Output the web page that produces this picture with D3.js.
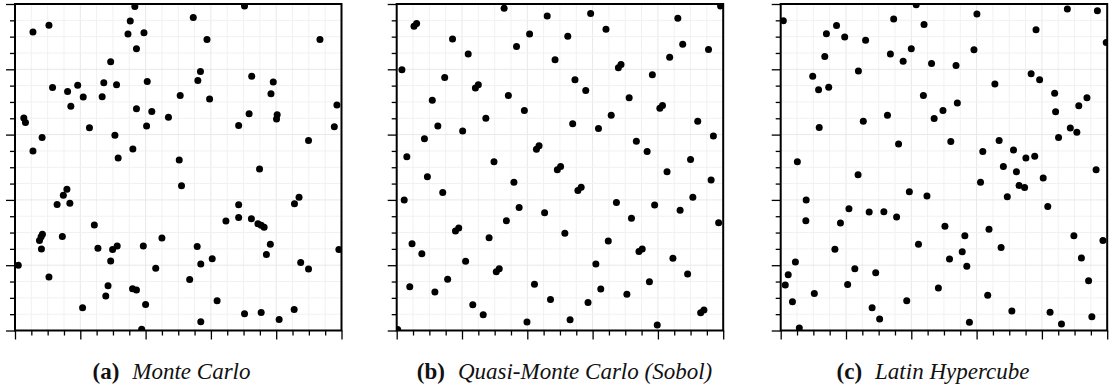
<!DOCTYPE html>
<html>
<head>
<meta charset="utf-8">
<script src="https://cdn.jsdelivr.net/npm/d3@7"></script>
<style>
  html, body { margin: 0; padding: 0; background: #fff; }
  svg { display: block; }
</style>
</head>
<body>
<svg id="chart" width="1111" height="392"></svg>
<script>
// sample points in the unit square, [x, y]
const monteCarlo = [
  [0.367,0.992],[0.703,0.994],[0.546,0.959],[0.353,0.948],[0.104,0.935],[0.055,0.914],[0.346,0.908],[0.395,0.912],
  [0.588,0.891],[0.934,0.891],[0.372,0.863],[0.293,0.823],[0.568,0.793],[0.725,0.779],[0.560,0.766],[0.405,0.763],
  [0.791,0.761],[0.272,0.759],[0.311,0.753],[0.192,0.751],[0.115,0.744],[0.161,0.732],[0.209,0.715],[0.267,0.716],
  [0.506,0.720],[0.784,0.725],[0.596,0.709],[0.986,0.691],[0.171,0.687],[0.372,0.679],[0.419,0.671],[0.717,0.664],
  [0.803,0.661],[0.801,0.648],[0.027,0.651],[0.032,0.637],[0.470,0.653],[0.685,0.628],[0.403,0.626],[0.228,0.621],
  [0.978,0.624],[0.083,0.591],[0.306,0.598],[0.899,0.582],[0.361,0.556],[0.055,0.550],[0.316,0.528],[0.503,0.522],
  [0.749,0.495],[0.510,0.443],[0.159,0.433],[0.148,0.414],[0.870,0.408],[0.129,0.386],[0.168,0.390],[0.685,0.385],
  [0.856,0.388],[0.685,0.346],[0.646,0.335],[0.724,0.342],[0.744,0.327],[0.754,0.322],[0.763,0.316],[0.243,0.323],
  [0.084,0.295],[0.080,0.287],[0.075,0.276],[0.145,0.288],[0.450,0.283],[0.081,0.250],[0.254,0.252],[0.299,0.248],
  [0.313,0.259],[0.393,0.259],[0.558,0.257],[0.782,0.264],[0.992,0.248],[0.770,0.233],[0.010,0.200],[0.293,0.213],
  [0.604,0.220],[0.569,0.204],[0.875,0.208],[0.899,0.188],[0.431,0.191],[0.104,0.164],[0.535,0.156],[0.285,0.137],
  [0.360,0.128],[0.372,0.124],[0.278,0.106],[0.619,0.091],[0.400,0.080],[0.207,0.070],[0.855,0.064],[0.703,0.051],
  [0.754,0.055],[0.809,0.034],[0.569,0.027],[0.388,0.004]
];

const sobol = [
  [0.329,0.987],[0.461,0.963],[0.594,0.971],[0.861,0.956],[0.992,0.994],[0.053,0.932],[0.061,0.940],[0.641,0.923],
  [0.407,0.908],[0.524,0.901],[0.171,0.893],[0.876,0.877],[0.367,0.870],[0.955,0.861],[0.219,0.847],[0.836,0.837],
  [0.485,0.829],[0.679,0.805],[0.687,0.815],[0.016,0.799],[0.783,0.783],[0.147,0.775],[0.546,0.768],[0.241,0.743],
  [0.250,0.753],[0.579,0.735],[0.342,0.720],[0.712,0.713],[0.109,0.705],[0.806,0.681],[0.814,0.689],[0.391,0.674],
  [0.657,0.659],[0.273,0.650],[0.922,0.641],[0.539,0.633],[0.126,0.626],[0.618,0.619],[0.202,0.611],[0.970,0.596],
  [0.085,0.587],[0.428,0.555],[0.436,0.566],[0.734,0.580],[0.767,0.548],[0.031,0.532],[0.900,0.524],[0.298,0.517],
  [0.492,0.492],[0.502,0.502],[0.828,0.486],[0.094,0.471],[0.963,0.461],[0.359,0.454],[0.555,0.429],[0.565,0.439],
  [0.141,0.423],[0.023,0.400],[0.907,0.408],[0.673,0.392],[0.790,0.384],[0.375,0.377],[0.868,0.368],[0.453,0.361],
  [0.719,0.344],[0.336,0.336],[0.986,0.330],[0.180,0.305],[0.190,0.314],[0.515,0.298],[0.283,0.284],[0.648,0.274],
  [0.047,0.266],[0.742,0.242],[0.752,0.250],[0.077,0.235],[0.846,0.221],[0.211,0.212],[0.610,0.204],[0.305,0.180],
  [0.314,0.189],[0.891,0.173],[0.156,0.157],[0.774,0.149],[0.422,0.142],[0.040,0.134],[0.625,0.127],[0.117,0.118],
  [0.705,0.111],[0.471,0.095],[0.586,0.086],[0.233,0.079],[0.931,0.054],[0.941,0.063],[0.265,0.048],[0.531,0.033],
  [0.399,0.026],[0.798,0.017],[0.003,0.003]
];

const latinHypercube = [
  [0.415,0.998],[0.878,0.985],[0.970,0.979],[0.601,0.969],[0.008,0.949],[0.346,0.954],[0.171,0.934],[0.439,0.937],
  [0.782,0.921],[0.140,0.909],[0.196,0.899],[0.260,0.889],[0.997,0.882],[0.400,0.863],[0.592,0.860],[0.135,0.839],
  [0.336,0.847],[0.375,0.825],[0.462,0.818],[0.537,0.812],[0.238,0.795],[0.098,0.779],[0.767,0.786],[0.793,0.768],
  [0.656,0.755],[0.147,0.745],[0.116,0.737],[0.839,0.727],[0.437,0.720],[0.938,0.713],[0.913,0.688],[0.541,0.697],
  [0.497,0.674],[0.842,0.670],[0.327,0.659],[0.470,0.649],[0.253,0.641],[0.118,0.622],[0.887,0.620],[0.907,0.607],
  [0.851,0.591],[0.669,0.582],[0.521,0.579],[0.361,0.571],[0.619,0.548],[0.713,0.553],[0.778,0.534],[0.751,0.528],
  [0.051,0.517],[0.682,0.502],[0.722,0.486],[0.966,0.492],[0.237,0.477],[0.804,0.467],[0.612,0.454],[0.730,0.444],
  [0.747,0.438],[0.394,0.425],[0.448,0.412],[0.694,0.410],[0.078,0.400],[0.818,0.380],[0.209,0.373],[0.271,0.363],
  [0.316,0.364],[0.355,0.348],[0.077,0.336],[0.183,0.329],[0.503,0.319],[0.638,0.310],[0.564,0.290],[0.898,0.290],
  [0.987,0.276],[0.422,0.264],[0.166,0.249],[0.675,0.254],[0.556,0.241],[0.517,0.219],[0.921,0.222],[0.045,0.210],
  [0.570,0.197],[0.227,0.189],[0.023,0.171],[0.291,0.177],[0.943,0.152],[0.014,0.139],[0.205,0.141],[0.483,0.130],
  [0.103,0.113],[0.634,0.108],[0.386,0.091],[0.036,0.088],[0.280,0.070],[0.708,0.060],[0.825,0.056],[0.303,0.035],
  [0.953,0.042],[0.578,0.025],[0.860,0.020],[0.057,0.008]
];

const majorTicks = [0, 0.2, 0.4, 0.6, 0.8, 1];
const minorTicks = [0.05, 0.1, 0.15, 0.25, 0.3, 0.35, 0.45, 0.5, 0.55, 0.65, 0.7, 0.75, 0.85, 0.9, 0.95];
const gridTicks = [...majorTicks, ...minorTicks];

const panels = [
  { id: 'a', label: '(a)', title: 'Monte Carlo', data: monteCarlo, left: 15, capX: 171.5 },
  { id: 'b', label: '(b)', title: 'Quasi-Monte Carlo (Sobol)', data: sobol, left: 396.7, capX: 564.5 },
  { id: 'c', label: '(c)', title: 'Latin Hypercube', data: latinHypercube, left: 780.7, capX: 933 }
];

const size = 326.5;
const plotTop = 4;
const svg = d3.select('#chart');

panels.forEach(p => {
  const g = svg.append('g').attr('transform', `translate(${p.left},${plotTop})`);
  const x = d3.scaleLinear().domain([0, 1]).range([0, size]);
  const y = d3.scaleLinear().domain([0, 1]).range([size, 0]);

  // grid
  g.append('g').selectAll('line.vx')
    .data(gridTicks).enter().append('line')
    .attr('x1', d => x(d)).attr('x2', d => x(d))
    .attr('y1', 0).attr('y2', size)
    .attr('stroke', d => majorTicks.includes(d) ? '#e8e8e8' : '#f1f1f1')
    .attr('stroke-width', 1);
  g.append('g').selectAll('line.hy')
    .data(gridTicks).enter().append('line')
    .attr('y1', d => y(d)).attr('y2', d => y(d))
    .attr('x1', 0).attr('x2', size)
    .attr('stroke', d => majorTicks.includes(d) ? '#e8e8e8' : '#f1f1f1')
    .attr('stroke-width', 1);

  // points, clipped to the plot box
  const clipId = 'clip-' + p.id;
  g.append('clipPath').attr('id', clipId)
    .append('rect').attr('width', size).attr('height', size);
  g.append('g').attr('clip-path', `url(#${clipId})`)
    .selectAll('circle')
    .data(p.data).enter().append('circle')
    .attr('cx', d => x(d[0]))
    .attr('cy', d => y(d[1]))
    .attr('r', 3.5)
    .attr('fill', '#000');

  // ticks
  const addAxis = (axis, transform) => {
    const a = g.append('g').attr('transform', transform).call(axis);
    a.select('.domain').remove();
    a.selectAll('.tick line').attr('stroke', '#000').attr('stroke-width', 1.3);
  };
  addAxis(d3.axisBottom(x).tickValues(majorTicks).tickSize(9).tickFormat(''), `translate(0,${size})`);
  addAxis(d3.axisBottom(x).tickValues(minorTicks).tickSize(5).tickFormat(''), `translate(0,${size})`);
  addAxis(d3.axisLeft(y).tickValues(majorTicks).tickSize(9).tickFormat(''), 'translate(0,0)');
  addAxis(d3.axisLeft(y).tickValues(minorTicks).tickSize(5).tickFormat(''), 'translate(0,0)');

  // frame
  g.append('rect')
    .attr('width', size).attr('height', size)
    .attr('fill', 'none').attr('stroke', '#000').attr('stroke-width', 2);

  // caption
  const cap = svg.append('text')
    .attr('x', p.capX).attr('y', 379)
    .attr('text-anchor', 'middle')
    .attr('font-family', "'Liberation Serif', 'DejaVu Serif', serif")
    .attr('font-size', 23)
    .attr('fill', '#111');
  cap.append('tspan').attr('font-weight', 'bold').text(p.label);
  cap.append('tspan').attr('dx', 13).attr('font-style', 'italic').text(p.title);
});
</script>
</body>
</html>
